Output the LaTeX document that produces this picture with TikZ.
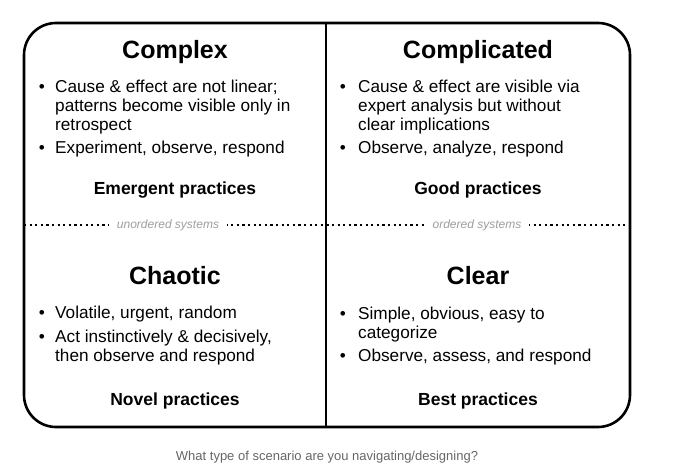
\documentclass[tikz,border=0pt]{standalone}
\usepackage{fontspec}
\setmainfont{Liberation Sans}
\usetikzlibrary{positioning}
\definecolor{sysgray}{HTML}{9E9E9E}
\definecolor{capgray}{HTML}{666666}
\newcommand{\bodysize}{\fontsize{17.2}{19}\selectfont}

\begin{document}
\begin{tikzpicture}[x=1pt, y=-1pt,
    title/.style={font=\fontsize{25}{29}\selectfont\bfseries, anchor=base, inner sep=0pt},
    dot/.style={font=\bodysize, anchor=base, inner sep=0pt},
    item/.style={font=\bodysize, anchor=base west, align=left, inner sep=0pt},
    practice/.style={font=\fontsize{17.5}{20}\selectfont\bfseries, anchor=base, inner sep=0pt},
    system/.style={font=\fontsize{12}{14}\selectfont\itshape, text=sysgray, fill=white, inner xsep=8pt, inner ysep=3pt}]
    \useasboundingbox (0,0) rectangle (680,473);

    % frame and dividers
    \coordinate (top) at (326,23);
    \coordinate (bottom) at (326,427);
    \coordinate (left) at (24,225);
    \coordinate (right) at (630,225);
    \draw[line width=2.3pt, dash pattern=on 2.1pt off 3.5pt] (left) -- (right);
    \draw[line width=2.6pt, rounded corners=32pt] (24,23) rectangle (630,427);
    \draw[line width=2.6pt] (top) -- (bottom);

    \node[system] (unordered) at (168,225) {unordered systems};
    \node[system] (ordered) at (477,225) {ordered systems};

    % complex (multi-line items sit on their last baseline)
    \node[title] (complex) at (175,59) {Complex};
    \node[dot] (complex-b1) at (42,93) {\textbullet};
    \node[item] (complex-1) at (55,131) {Cause \& effect are not linear;\\patterns become visible only in\\retrospect};
    \node[dot] (complex-b2) at (42,154) {\textbullet};
    \node[item] (complex-2) at (55,154) {Experiment, observe, respond};
    \node[practice] (emergent) at (175,195) {Emergent practices};

    % complicated
    \node[title] (complicated) at (478,59) {Complicated};
    \node[dot] (complicated-b1) at (343,93) {\textbullet};
    \node[item] (complicated-1) at (358,131) {Cause \& effect are visible via\\expert analysis but without\\clear implications};
    \node[dot] (complicated-b2) at (343,154) {\textbullet};
    \node[item] (complicated-2) at (358,154) {Observe, analyze, respond};
    \node[practice] (good) at (478,195) {Good practices};

    % chaotic
    \node[title] (chaotic) at (175,284) {Chaotic};
    \node[dot] (chaotic-b1) at (42,318) {\textbullet};
    \node[item] (chaotic-1) at (55,318) {Volatile, urgent, random};
    \node[dot] (chaotic-b2) at (42,342) {\textbullet};
    \node[item] (chaotic-2) at (55,361) {Act instinctively \& decisively,\\then observe and respond};
    \node[practice] (novel) at (175,405) {Novel practices};

    % clear
    \node[title] (clear) at (478,284) {Clear};
    \node[dot] (clear-b1) at (343,319) {\textbullet};
    \node[item] (clear-1) at (358,338) {Simple, obvious, easy to\\categorize};
    \node[dot] (clear-b2) at (343,361) {\textbullet};
    \node[item] (clear-2) at (358,361) {Observe, assess, and respond};
    \node[practice] (best) at (478,405) {Best practices};

    \node[font=\fontsize{13}{16}\selectfont, text=capgray, anchor=base, inner sep=0pt] (caption) at (327,460) {What type of scenario are you navigating/designing?};
\end{tikzpicture}
\end{document}
